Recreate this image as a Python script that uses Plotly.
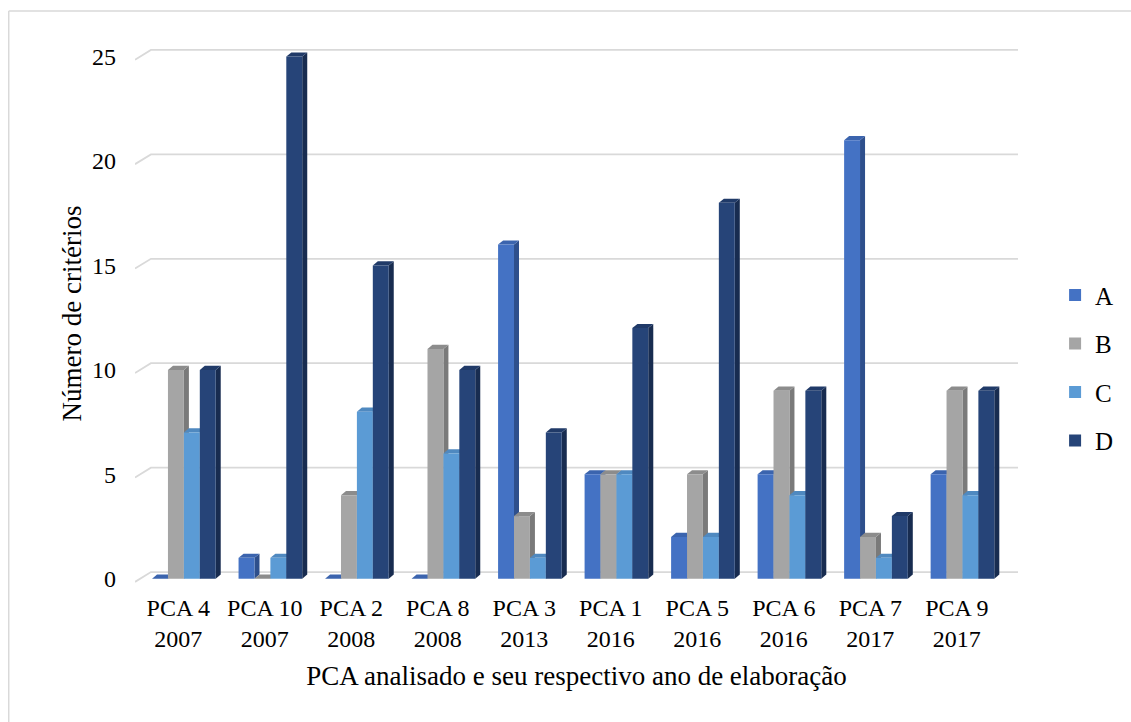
import plotly.graph_objects as go

# Categories (PCA + year of elaboration)
categorias = ["PCA 4<br>2007", "PCA 10<br>2007", "PCA 2<br>2008", "PCA 8<br>2008",
              "PCA 3<br>2013", "PCA 1<br>2016", "PCA 5<br>2016", "PCA 6<br>2016",
              "PCA 7<br>2017", "PCA 9<br>2017"]

serie_a = [0, 1, 0, 0, 16, 5, 2, 5, 21, 5]
serie_b = [10, 0, 4, 11, 3, 5, 5, 9, 2, 9]
serie_c = [7, 1, 8, 6, 1, 5, 2, 4, 1, 4]
serie_d = [10, 25, 15, 10, 7, 12, 18, 9, 3, 9]

nomes = ["A", "B", "C", "D"]
valores = [serie_a, serie_b, serie_c, serie_d]
y_ticks = [0, 5, 10, 15, 20, 25]

# front, top and side face colours for each series
cor_frente = ["#4472C4", "#A5A5A5", "#5B9BD5", "#264478"]
cor_topo = ["#3B64AE", "#8C8C8C", "#4F89C0", "#203A68"]
cor_lado = ["#2E4F8C", "#7A7A7A", "#3E72A3", "#182C50"]

FONT = "Liberation Serif, Times New Roman, serif"
largura = 0.184      # bar width (category units)
desloc = 0.065       # cluster shift to the right
dx, dy = 0.058, 0.2  # depth of the 3-D faces
x_min, x_max = -0.5, 9.707
y_min, y_max = -0.3, 25.7

fig = go.Figure()
shapes = []

# back-wall gridlines with a short diagonal to the front edge
for v in y_ticks:
    shapes.append(dict(type="path", layer="below",
                       path=f"M{x_min},{v - 0.15} L{x_min + 0.184},{v + 0.32} L{x_max},{v + 0.32}",
                       xref="x", yref="y", line=dict(color="#D9D9D9", width=1.8)))

idx = list(range(len(categorias)))
for k, (nome, vals) in enumerate(zip(nomes, valores)):
    xs = [i + desloc + (k - 1.5) * largura for i in idx]
    fig.add_trace(go.Bar(
        x=xs, y=vals, width=largura, name=nome,
        marker=dict(color=cor_frente[k], line=dict(width=0)),
        legendgroup=nome, hoverinfo="y",
    ))
    for xc, v in zip(xs, vals):
        x0 = xc - largura / 2
        x1 = xc + largura / 2
        shapes.append(dict(type="path", layer="below", xref="x", yref="y",
                           path=f"M{x1},0 L{x1 + dx},{dy} L{x1 + dx},{v + dy} L{x1},{v} Z",
                           fillcolor=cor_lado[k], line=dict(width=0)))
        shapes.append(dict(type="path", layer="below", xref="x", yref="y",
                           path=f"M{x0},{v} L{x0 + dx},{v + dy} L{x1 + dx},{v + dy} L{x1},{v} Z",
                           fillcolor=cor_topo[k], line=dict(width=0)))

# outer frame of the chart area
shapes.append(dict(type="line", xref="paper", yref="paper", x0=-0.143, x1=1.2,
                   y0=1.057, y1=1.057, line=dict(color="#D9D9D9", width=1.5)))
shapes.append(dict(type="line", xref="paper", yref="paper", x0=-0.143, x1=-0.143,
                   y0=1.057, y1=-0.3, line=dict(color="#D9D9D9", width=1.5)))

fig.update_layout(
    width=1131, height=722,
    margin=dict(l=135, r=108, t=42, b=137),
    paper_bgcolor="white", plot_bgcolor="white",
    barmode="overlay",
    font=dict(family=FONT, size=24, color="#000000"),
    shapes=shapes,
    showlegend=True,
    legend=dict(x=1.042, y=0.40, xanchor="left", yanchor="middle",
                font=dict(family=FONT, size=25), tracegroupgap=13,
                traceorder="grouped", bgcolor="rgba(0,0,0,0)"),
    xaxis=dict(range=[x_min, x_max], tickmode="array", tickvals=idx, ticktext=categorias,
               showgrid=False, zeroline=False, showline=False, ticks="",
               ticklabelstandoff=6,
               title=dict(text="PCA analisado e seu respectivo ano de elaboração",
                          font=dict(family=FONT, size=27), standoff=14),
               fixedrange=True),
    yaxis=dict(range=[y_min, y_max], tickmode="array", tickvals=y_ticks,
               showgrid=False, zeroline=False, showline=False, ticks="",
               ticklabelstandoff=18,
               title=dict(text="Número de critérios", font=dict(family=FONT, size=27),
                          standoff=2),
               fixedrange=True),
)

fig.write_html("out.html")
